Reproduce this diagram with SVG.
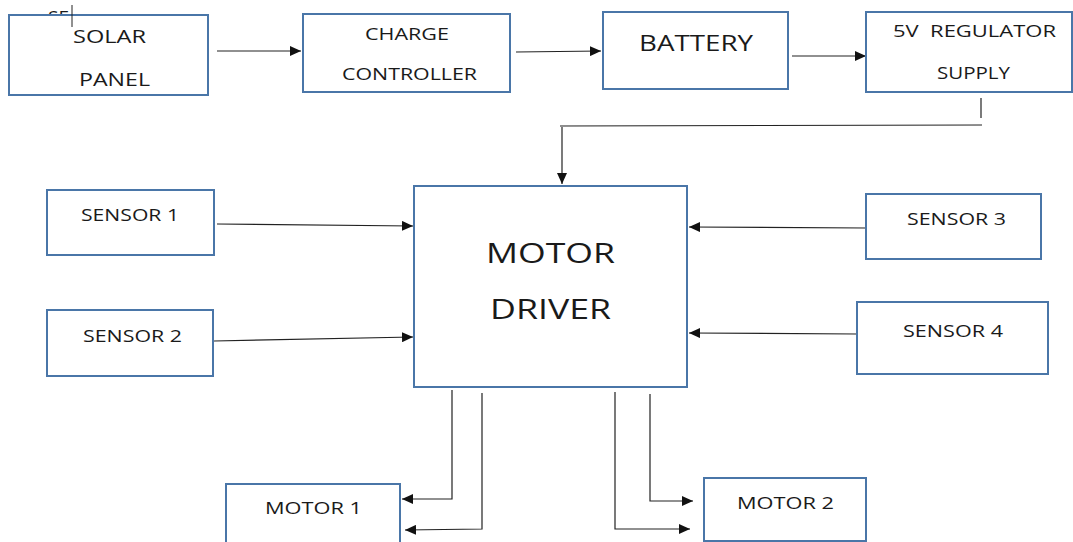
<svg xmlns="http://www.w3.org/2000/svg" width="1073" height="542" viewBox="0 0 1073 542">
<style>
.box{fill:#fff;stroke:#4a76a8;stroke-width:2}
.t{font-family:"Open Sans","Liberation Sans",sans-serif;fill:#1a1a1a;text-anchor:start}
.s{font-size:17px}
.m{font-size:19px}
.c{fill:none;stroke:#222;stroke-width:1.2}
</style>
<defs>
<marker id="ah" markerUnits="userSpaceOnUse" markerWidth="12" markerHeight="10" refX="11" refY="5" orient="auto">
<path d="M0,0 L11,5 L0,10 z" fill="#111"/>
</marker>
</defs>
<rect width="1073" height="542" fill="#fff"/>
<g id="connectors">
<line class="c" x1="217" y1="51" x2="301" y2="51" marker-end="url(#ah)"/>
<line class="c" x1="516" y1="52" x2="601" y2="51" marker-end="url(#ah)"/>
<line class="c" x1="792" y1="56" x2="866" y2="56" marker-end="url(#ah)"/>
<line class="c" x1="981" y1="98" x2="981" y2="118"/>
<polyline class="c" points="982,125 560,126"/>
<line class="c" x1="562" y1="127" x2="562" y2="184" marker-end="url(#ah)"/>
<line class="c" x1="217" y1="224" x2="413" y2="226" marker-end="url(#ah)"/>
<line class="c" x1="214" y1="341" x2="413" y2="337" marker-end="url(#ah)"/>
<line class="c" x1="866" y1="228" x2="689" y2="227" marker-end="url(#ah)"/>
<line class="c" x1="857" y1="334" x2="689" y2="333" marker-end="url(#ah)"/>
<polyline class="c" points="452,390 452,499 402,499" marker-end="url(#ah)"/>
<polyline class="c" points="482,393 482,529 405,530" marker-end="url(#ah)"/>
<polyline class="c" points="615,392 615,529 690,529" marker-end="url(#ah)"/>
<polyline class="c" points="650,394 650,501 693,501" marker-end="url(#ah)"/>
</g>
<g id="solar-panel">
<text class="t m" x="48" y="24">SE</text>
<rect class="box" x="9" y="15" width="199" height="80"/>
<text class="t m" x="73" y="43" textLength="73" lengthAdjust="spacingAndGlyphs">SOLAR</text>
<text class="t m" x="79" y="86" textLength="71" lengthAdjust="spacingAndGlyphs">PANEL</text>
<line x1="72" y1="5" x2="72" y2="27" stroke="#222" stroke-width="1"/>
</g>
<g id="charge-controller">
<rect class="box" x="303" y="14" width="207" height="78"/>
<text class="t s" x="365" y="40" textLength="84" lengthAdjust="spacingAndGlyphs">CHARGE</text>
<text class="t s" x="342" y="80" textLength="135" lengthAdjust="spacingAndGlyphs">CONTROLLER</text>
</g>
<g id="battery">
<rect class="box" x="603" y="12" width="185" height="77"/>
<text class="t" style="font-size:22px" x="639" y="51" textLength="114" lengthAdjust="spacingAndGlyphs">BATTERY</text>
</g>
<g id="regulator">
<rect class="box" x="866" y="12" width="206" height="80"/>
<text class="t s" x="893" y="37" textLength="163" lengthAdjust="spacingAndGlyphs" xml:space="preserve">5V  REGULATOR</text>
<text class="t s" x="937" y="79" textLength="73" lengthAdjust="spacingAndGlyphs">SUPPLY</text>
</g>
<g id="motor-driver">
<rect class="box" x="414" y="186" width="273" height="201"/>
<text class="t" style="font-size:28px" x="486" y="263" textLength="129" lengthAdjust="spacingAndGlyphs">MOTOR</text>
<text class="t" style="font-size:28px" x="490" y="319" textLength="121" lengthAdjust="spacingAndGlyphs">DRIVER</text>
</g>
<g id="sensor-1">
<rect class="box" x="47" y="190" width="167" height="65"/>
<text class="t s" x="81" y="221" textLength="98" lengthAdjust="spacingAndGlyphs">SENSOR 1</text>
</g>
<g id="sensor-2">
<rect class="box" x="47" y="310" width="166" height="66"/>
<text class="t s" x="83" y="342" textLength="99" lengthAdjust="spacingAndGlyphs">SENSOR 2</text>
</g>
<g id="sensor-3">
<rect class="box" x="866" y="194" width="175" height="65"/>
<text class="t s" x="907" y="225" textLength="99" lengthAdjust="spacingAndGlyphs">SENSOR 3</text>
</g>
<g id="sensor-4">
<rect class="box" x="857" y="302" width="191" height="72"/>
<text class="t s" x="903" y="337" textLength="100" lengthAdjust="spacingAndGlyphs">SENSOR 4</text>
</g>
<g id="motor-1">
<rect class="box" x="226" y="484" width="174" height="70"/>
<text class="t s" x="265" y="514" textLength="97" lengthAdjust="spacingAndGlyphs">MOTOR 1</text>
</g>
<g id="motor-2">
<rect class="box" x="704" y="478" width="162" height="63"/>
<text class="t s" x="737" y="509" textLength="97" lengthAdjust="spacingAndGlyphs">MOTOR 2</text>
</g>
</svg>
